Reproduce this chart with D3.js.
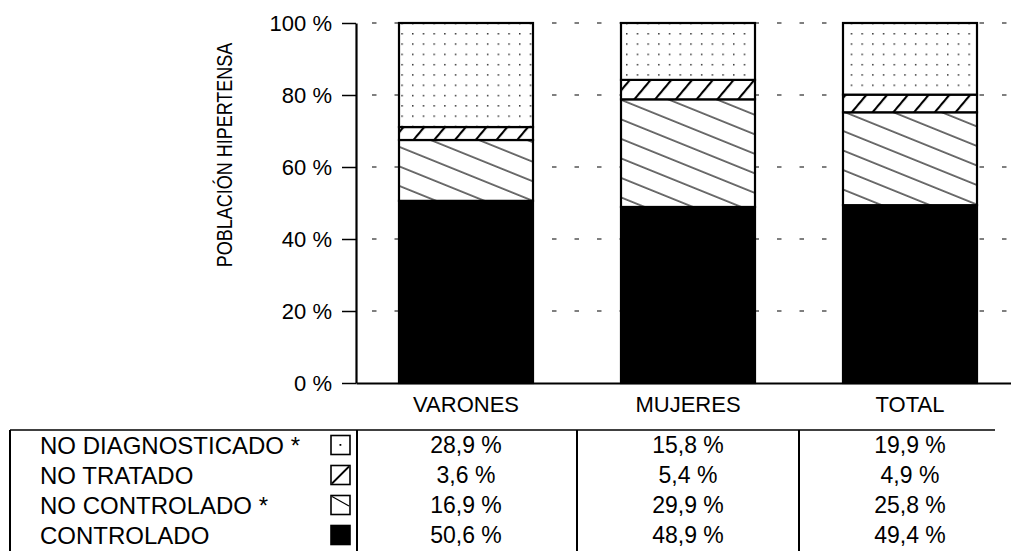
<!DOCTYPE html>
<html>
<head>
<meta charset="utf-8">
<script src="https://cdn.jsdelivr.net/npm/d3@7"></script>
<style>
  html, body { margin: 0; padding: 0; background: #fff; }
  svg { display: block; }
  text { font-family: "Liberation Sans", Arial, Helvetica, sans-serif; fill: #000; }
</style>
</head>
<body>
<svg id="chart" width="1011" height="551"></svg>
<script>
// ---------- data ----------
const categories = ["VARONES", "MUJERES", "TOTAL"];
const seriesKeys = ["controlado", "noControlado", "noTratado", "noDiagnosticado"]; // stack order bottom -> top
const seriesLabels = {
  noDiagnosticado: "NO DIAGNOSTICADO *",
  noTratado: "NO TRATADO",
  noControlado: "NO CONTROLADO *",
  controlado: "CONTROLADO"
};
const controlado      = [50.6, 48.9, 49.4];
const noControlado    = [16.9, 29.9, 25.8];
const noTratado       = [3.6, 5.4, 4.9];
const noDiagnosticado = [28.9, 15.8, 19.9];
const tableOrder = ["noDiagnosticado", "noTratado", "noControlado", "controlado"];
const yTicks = [0, 20, 40, 60, 80, 100];
const yTitle = "POBLACIÓN HIPERTENSA";

const seriesValues = { controlado, noControlado, noTratado, noDiagnosticado };
const rows = categories.map((c, i) => {
  const r = { cat: c };
  seriesKeys.forEach(k => r[k] = seriesValues[k][i]);
  return r;
});

// ---------- layout ----------
const svg = d3.select("#chart");
const axisX = 356, yTop = 23, yBottom = 383;

const x = d3.scaleBand().domain(categories).range([axisX, 1020])
  .paddingInner(0.3964).paddingOuter(0.1937);
const y = d3.scaleLinear().domain([0, 100]).range([yBottom, yTop]);

// ---------- patterns ----------
const defs = svg.append("defs");
// dots
const pDots = defs.append("pattern").attr("id", "pDots").attr("patternUnits", "userSpaceOnUse")
  .attr("x", 412).attr("y", 33).attr("width", 10.7).attr("height", 10.3);
pDots.append("rect").attr("width", 10.7).attr("height", 10.3).attr("fill", "#fff");
pDots.append("rect").attr("x", 0).attr("y", 0).attr("width", 1.5).attr("height", 1.5).attr("fill", "#333");
// "/" dense thick hatch
const pSlash = defs.append("pattern").attr("id", "pSlash").attr("patternUnits", "userSpaceOnUse")
  .attr("width", 15.9).attr("height", 15.9).attr("patternTransform", "translate(405,0) rotate(40)");
pSlash.append("rect").attr("width", 15.9).attr("height", 15.9).attr("fill", "#fff");
pSlash.append("line").attr("x1", 1).attr("y1", -1).attr("x2", 1).attr("y2", 17)
  .attr("stroke", "#000").attr("stroke-width", 2.2);
// "\" sparse thin hatch
const pBack = defs.append("pattern").attr("id", "pBack").attr("patternUnits", "userSpaceOnUse")
  .attr("width", 18.1).attr("height", 18.1).attr("patternTransform", "translate(0,4) rotate(22)");
pBack.append("rect").attr("width", 18.1).attr("height", 18.1).attr("fill", "#fff");
pBack.append("line").attr("x1", -1).attr("y1", 1).attr("x2", 19.1).attr("y2", 1)
  .attr("stroke", "#111").attr("stroke-width", 1.2);

const fills = { controlado: "#000", noControlado: "url(#pBack)", noTratado: "url(#pSlash)", noDiagnosticado: "url(#pDots)" };

// ---------- gridlines ----------
svg.append("g").selectAll("line").data(yTicks.filter(d => d > 0)).join("line")
  .attr("x1", axisX).attr("x2", 1011)
  .attr("y1", d => y(d)).attr("y2", d => y(d))
  .attr("stroke", "#555").attr("stroke-width", 1.3)
  .attr("stroke-dasharray", "4.5 18").attr("stroke-dashoffset", 6.5);

// ---------- bars ----------
const stack = d3.stack().keys(seriesKeys)(rows);
const layers = svg.append("g").selectAll("g").data(stack).join("g")
  .attr("fill", d => fills[d.key]);
layers.selectAll("rect").data(d => d).join("rect")
  .attr("x", d => x(d.data.cat))
  .attr("width", x.bandwidth())
  .attr("y", d => y(d[1]))
  .attr("height", d => y(d[0]) - y(d[1]))
  .attr("stroke", "#000").attr("stroke-width", 2.2);

// ---------- axes ----------
const yAxis = svg.append("g").attr("transform", `translate(${axisX},0)`)
  .call(d3.axisLeft(y).tickValues(yTicks).tickFormat(d => d + " %").tickSize(14).tickSizeOuter(0).tickPadding(10));
yAxis.select(".domain").attr("stroke-width", 2.2);
yAxis.selectAll(".tick line").attr("stroke-width", 1.5);
yAxis.selectAll("text").attr("font-size", 22).attr("fill", "#000");
yAxis.attr("font-family", null);

const xAxis = svg.append("g").attr("transform", `translate(0,${yBottom})`)
  .call(d3.axisBottom(x).tickSize(0).tickSizeOuter(0).tickPadding(13));
xAxis.select(".domain").attr("stroke-width", 2);
xAxis.selectAll("text").attr("font-size", 22).attr("fill", "#000");
xAxis.attr("font-family", null);

// y title
svg.append("text")
  .attr("transform", `translate(232,155) rotate(-90) scale(1,1.25)`)
  .attr("text-anchor", "middle")
  .attr("font-size", 18)
  .text(yTitle);

// ---------- table ----------
const tableTop = 430, tableBottom = 560, tableLeft = 10;
const rowY0 = 445, rowH = 30;
const tbl = svg.append("g");
tbl.append("line").attr("x1", tableLeft).attr("x2", 995).attr("y1", tableTop).attr("y2", tableTop)
  .attr("stroke", "#000").attr("stroke-width", 1.6);
const gapHalf = (x.step() - x.bandwidth()) / 2;
const vlines = [tableLeft, axisX + 1].concat(categories.slice(0, 2).map(c => x(c) + x.bandwidth() + gapHalf));
tbl.selectAll("line.v").data(vlines).join("line").attr("class", "v")
  .attr("x1", d => d).attr("x2", d => d).attr("y1", tableTop).attr("y2", tableBottom)
  .attr("stroke", "#000").attr("stroke-width", 2);

// legend labels
tbl.selectAll("text.lab").data(tableOrder).join("text").attr("class", "lab")
  .attr("x", 40).attr("y", (d, i) => rowY0 + i * rowH).attr("dy", "0.36em")
  .attr("font-size", 24).text(d => seriesLabels[d]);

// swatches
const S = 19;
const sw = {
  noDiagnosticado: g => g.append("rect").attr("x", S / 2 - 1).attr("y", S / 2 - 1).attr("width", 1.8).attr("height", 1.8).attr("fill", "#000"),
  noTratado: g => g.append("line").attr("x1", 1).attr("y1", S - 1).attr("x2", S - 1).attr("y2", 1).attr("stroke", "#000").attr("stroke-width", 1.8),
  noControlado: g => g.append("line").attr("x1", 1).attr("y1", 1).attr("x2", S - 1).attr("y2", S * 0.55).attr("stroke", "#000").attr("stroke-width", 1.2),
  controlado: g => g
};
const swatches = tbl.selectAll("g.sw").data(tableOrder).join("g").attr("class", "sw")
  .attr("transform", (d, i) => `translate(331,${rowY0 + i * rowH - S / 2})`);
swatches.append("rect").attr("width", S).attr("height", S)
  .attr("fill", d => d === "controlado" ? "#000" : "#fff")
  .attr("stroke", "#000").attr("stroke-width", 1.6);
swatches.each(function(d) { sw[d](d3.select(this)); });

// values
const fmt = v => d3.format(".1f")(v).replace(".", ",") + " %";
tableOrder.forEach((k, i) => {
  tbl.append("g").selectAll("text").data(rows).join("text")
    .attr("x", d => x(d.cat) + x.bandwidth() / 2)
    .attr("y", rowY0 + i * rowH).attr("dy", "0.36em")
    .attr("text-anchor", "middle").attr("font-size", 23)
    .text(d => fmt(d[k]));
});
</script>
</body>
</html>
